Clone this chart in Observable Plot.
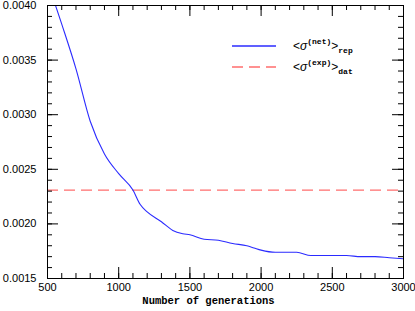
<!DOCTYPE html>
<html>
<head>
<meta charset="utf-8">
<script src="https://cdn.jsdelivr.net/npm/d3@7"></script>
<script src="https://cdn.jsdelivr.net/npm/@observablehq/plot@0.6"></script>
<style>
  html, body { margin: 0; padding: 0; background: white; }
  #chart { position: relative; width: 415px; height: 311px; }
</style>
</head>
<body>
<div id="chart"></div>
<script>
// Data
const generations = [500, 600, 700, 800, 900, 1000, 1100, 1150, 1200, 1300, 1380, 1450, 1500, 1600, 1700, 1800, 1900, 1950, 2000, 2100, 2250, 2350, 2450, 2600, 2700, 2800, 2900, 3000];
const sigmaNetRep = [0.00422, 0.00383, 0.00342, 0.00294, 0.00264, 0.00246, 0.00231, 0.00218, 0.00211, 0.00202, 0.00194, 0.00191, 0.00190, 0.00186, 0.00185, 0.00182, 0.00180, 0.00178, 0.00176, 0.00174, 0.00174, 0.00171, 0.00171, 0.00171, 0.00170, 0.00170, 0.00169, 0.00168];
const sigmaExpDat = 0.00231;

const xMajorTicks = [500, 1000, 1500, 2000, 2500, 3000];
const xMinorTicks = d3.range(500, 3001, 100);
const yMajorTicks = [0.0015, 0.0020, 0.0025, 0.0030, 0.0035, 0.0040];
const yMinorTicks = d3.range(15, 41).map(d => d / 10000);
const xLabel = "Number of generations";
const legendLabels = [
  {base: "σ", sup: "(net)", sub: "rep", color: "#2b2bff", dash: null},
  {base: "σ", sup: "(exp)", sub: "dat", color: "#ff6e6e", dash: "11,6"}
];

const curve = generations.map((g, i) => ({g, v: sigmaNetRep[i]}));

const W = 415, H = 311, mL = 47, mR = 12, mT = 5, mB = 33;
const iW = W - mL - mR, iH = H - mT - mB;
const MAJ = 11, MIN = 5;

const plot = Plot.plot({
  width: W,
  height: H,
  marginLeft: mL,
  marginRight: mR,
  marginTop: mT,
  marginBottom: mB,
  style: {fontFamily: "'Liberation Sans', Arial, sans-serif", fontSize: "11px", color: "black", background: "white"},
  x: {domain: [500, 3000]},
  y: {domain: [0.0015, 0.0040]},
  marks: [
    Plot.ruleY([sigmaExpDat], {stroke: legendLabels[1].color, strokeWidth: 1.3, strokeDasharray: legendLabels[1].dash}),
    Plot.line(curve, {x: "g", y: "v", stroke: legendLabels[0].color, strokeWidth: 1.1, curve: "monotone-x", clip: true}),
    // inward ticks, all four sides
    Plot.tickX(xMajorTicks, {x: d => d, insetTop: iH - MAJ, stroke: "black"}),
    Plot.tickX(xMinorTicks, {x: d => d, insetTop: iH - MIN, stroke: "black"}),
    Plot.tickX(xMajorTicks, {x: d => d, insetBottom: iH - MAJ, stroke: "black"}),
    Plot.tickX(xMinorTicks, {x: d => d, insetBottom: iH - MIN, stroke: "black"}),
    Plot.tickY(yMajorTicks, {y: d => d, insetRight: iW - MAJ, stroke: "black"}),
    Plot.tickY(yMinorTicks, {y: d => d, insetRight: iW - MIN, stroke: "black"}),
    Plot.tickY(yMajorTicks, {y: d => d, insetLeft: iW - MAJ, stroke: "black"}),
    Plot.tickY(yMinorTicks, {y: d => d, insetLeft: iW - MIN, stroke: "black"}),
    // tick labels
    Plot.axisX(xMajorTicks, {anchor: "bottom", tickSize: 0, tickPadding: 5, tickFormat: d => String(d), label: null}),
    Plot.axisY(yMajorTicks, {anchor: "left", tickSize: 0, tickPadding: 11, tickFormat: d3.format(".4f"), label: null}),
    Plot.text([xLabel], {frameAnchor: "bottom", dy: 25, dx: -17, fontFamily: "'Liberation Mono', 'Courier New', monospace", fontWeight: "bold", fontSize: 10.5, fill: "black"}),
    Plot.frame({stroke: "black", strokeWidth: 1})
  ]
});

document.getElementById("chart").appendChild(plot);

// Legend (inside the plot, top right)
const svg = d3.select(plot);
const lg = svg.append("g").attr("class", "legend").attr("text-anchor", "start");
legendLabels.forEach((d, i) => {
  const y = 46 + i * 21;
  lg.append("line")
    .attr("x1", 232).attr("x2", 276).attr("y1", y).attr("y2", y)
    .attr("stroke", d.color).attr("stroke-width", 1.3)
    .attr("stroke-dasharray", d.dash);
  const t = lg.append("text")
    .attr("x", 293).attr("y", y + 4)
    .attr("font-family", "'Liberation Sans', Arial, sans-serif")
    .attr("font-size", 12).attr("fill", "black");
  t.append("tspan").text("<");
  t.append("tspan").attr("font-style", "italic").text(d.base);
  t.append("tspan").attr("dy", -6).attr("font-size", 8)
    .attr("font-family", "'Liberation Mono', monospace").attr("font-weight", "bold").text(d.sup);
  t.append("tspan").attr("dy", 6).text(">");
  t.append("tspan").attr("dy", 3).attr("font-size", 8)
    .attr("font-family", "'Liberation Mono', monospace").attr("font-weight", "bold").text(d.sub);
});
</script>
</body>
</html>
